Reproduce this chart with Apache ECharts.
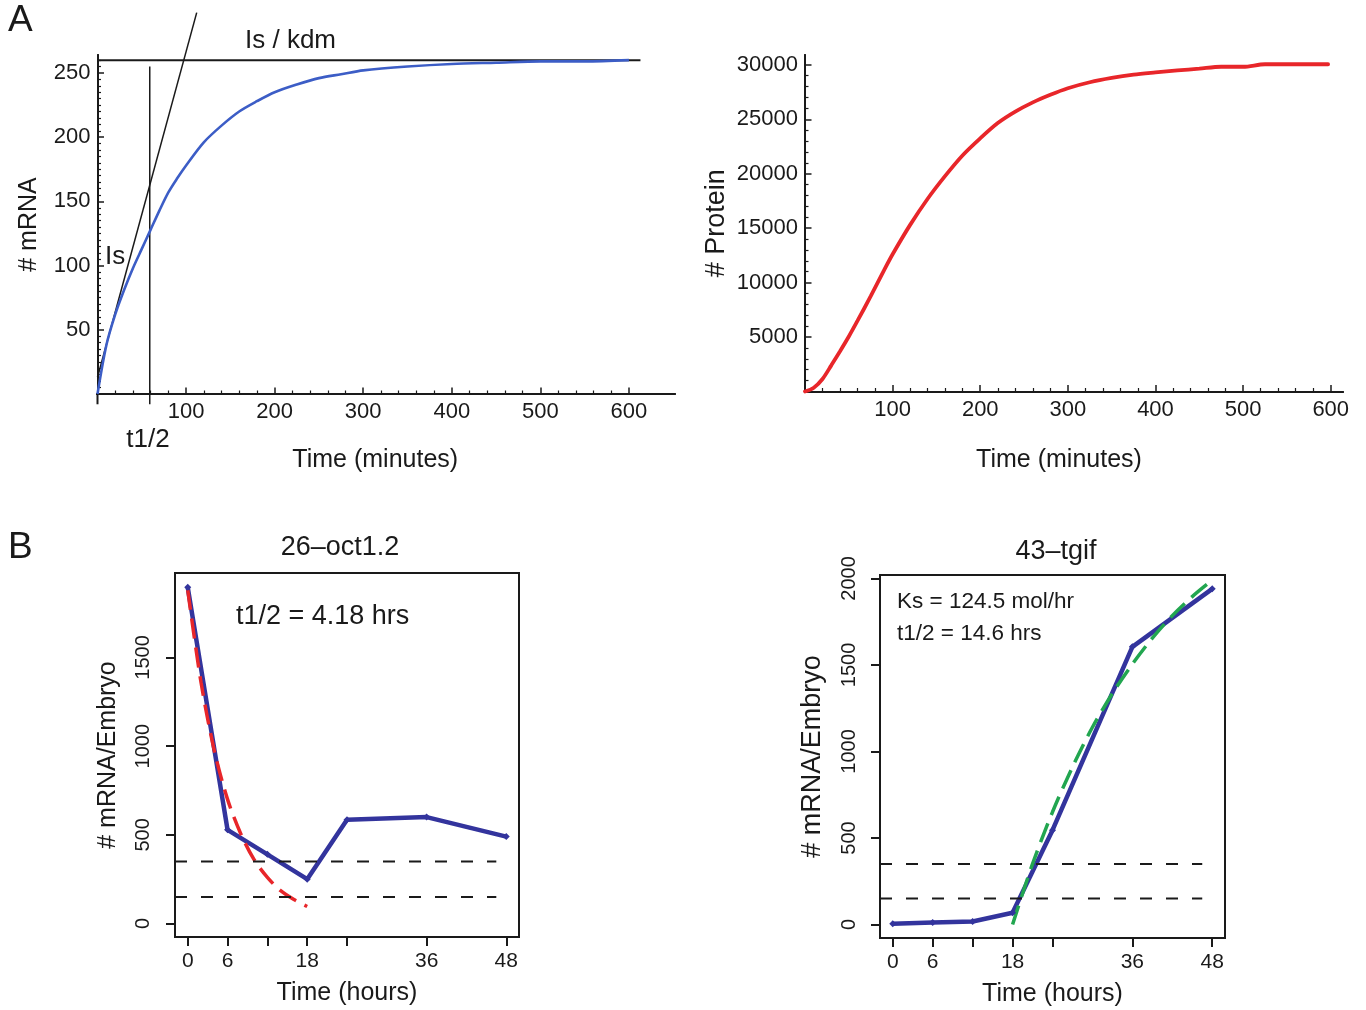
<!DOCTYPE html>
<html>
<head>
<meta charset="utf-8">
<title>mRNA / protein kinetics</title>
<script src="https://cdn.jsdelivr.net/npm/echarts@6/dist/echarts.min.js"></script>
<style>
  html, body { margin: 0; padding: 0; background: #fff; }
  #main { width: 1366px; height: 1010px; }
</style>
</head>
<body>
<div id="main"></div>
<script>
// ---- panel A, left: mRNA build-up (minutes)
var mrnaTime  = [0, 10, 20, 30, 40, 50, 60, 70, 80, 90, 100, 120, 140, 160, 180, 200, 225, 250, 275, 300, 350, 400, 450, 500, 550, 600];
var mrnaCount = [0, 38, 62, 81, 98, 113, 128, 143, 157, 168, 178, 196, 209, 220, 228, 235, 241, 246, 249, 252, 255, 257, 258, 259, 259, 260];
var plateauTime  = [0, 613];
var plateauCount = [260, 260];          // Is / kdm
var tangentTime  = [0, 112];
var tangentCount = [13, 297];           // initial slope Is
var halfTime  = [59, 59];
var halfCount = [-8, 255];              // t1/2 marker

// ---- panel A, right: protein (minutes)
var protTime  = [0, 10, 20, 30, 40, 50, 60, 75, 90, 100, 120, 140, 160, 180, 200, 220, 240, 260, 280, 300, 325, 350, 375, 400, 425, 450, 475, 500, 525, 550, 597];
var protCount = [0, 350, 1150, 2400, 3700, 5050, 6500, 8750, 11100, 12600, 15300, 17700, 19800, 21700, 23250, 24650, 25700, 26550, 27250, 27850, 28400, 28800, 29100, 29300, 29480, 29650, 29820, 29820, 30050, 30050, 30050];

// ---- panel B: embryo time courses (hours)
var hours = [0, 6, 12, 18, 24, 36, 48];
var oct12 = [1895, 528, 390, 250, 585, 600, 490];
var octFitHours = [0, 2, 4, 6, 8, 10, 12, 14, 16, 18];
var octFit      = [1880, 1360, 975, 700, 505, 360, 260, 185, 135, 96];
var tgif = [5, 12, 17, 68, 545, 1605, 1940];
var tgifFitHours = [18, 21, 24, 27, 30, 33, 36, 39, 42, 45, 48];
var tgifFit      = [0, 350, 650, 910, 1140, 1335, 1505, 1655, 1785, 1895, 1990];
var thresholds = [350, 150];
var thresholdHours = [-1.92, 46.5];

// ---- tick labels
var minuteTicks = [100, 200, 300, 400, 500, 600];
var mrnaTicks = [50, 100, 150, 200, 250];
var protTicks = [5000, 10000, 15000, 20000, 25000, 30000];
var hourTicks = [0, 6, 12, 18, 24, 36, 48];
var hourLabels = [0, 6, 18, 36, 48];
var octTicks = [0, 500, 1000, 1500];
var tgifTicks = [0, 500, 1000, 1500, 2000];

// axis line stubs reaching past the origin (panel A)
var mrnaAxisStubX = [-22, 0];
var mrnaAxisStubY = [-8, 0];
var protAxisStubX = [-15, 0];

var FONT = "'Liberation Sans', Arial, Helvetica, sans-serif";
var INK = '#1a1a1a';

function zip(xs, ys) {
    return xs.map(function (x, i) { return [x, ys[i]]; });
}
// minor tick positions between the major ones
function minors(from, to, step, major) {
    var out = [];
    for (var i = Math.round(from / step); i * step <= to; i++) {
        var v = i * step;
        if (v % major !== 0) out.push(v);
    }
    return out;
}
function plain(v) { return String(v); }

// Mathematica style axis: ticks pointing into the plot
function mmaAxis(grid, min, max, ticks, minorTicks, isMinor, extra) {
    var ax = {
        type: 'value', gridIndex: grid, min: min, max: max,
        nameMoveOverlap: false,
        splitLine: { show: false },
        axisLine: { show: true, onZero: false, lineStyle: { color: INK, width: 2 } },
        axisTick: isMinor
            ? { show: true, inside: true, length: 3.5, customValues: minorTicks, lineStyle: { color: INK, width: 1.2 } }
            : { show: true, inside: true, length: 6.5, customValues: ticks, lineStyle: { color: INK, width: 1.5 } },
        axisLabel: isMinor
            ? { show: false }
            : { show: true, customValues: ticks, formatter: plain, margin: 7, fontSize: 22, color: INK, fontFamily: FONT }
    };
    if (extra) Object.assign(ax, extra);
    return ax;
}

// R style axis on the plot box: ticks outside
function rAxis(grid, min, max, ticks, labels, extra) {
    var ax = {
        type: 'value', gridIndex: grid, min: min, max: max,
        nameMoveOverlap: false,
        splitLine: { show: false },
        axisLine: { show: false, onZero: false },
        axisTick: { show: true, inside: false, length: 9, customValues: ticks, lineStyle: { color: INK, width: 2 } },
        axisLabel: { show: true, customValues: labels, formatter: plain, fontSize: 20, color: INK, fontFamily: FONT }
    };
    Object.assign(ax, extra);
    return ax;
}

function nameStyle(size, padding) {
    return { fontSize: size, color: INK, fontFamily: FONT, padding: padding || 0 };
}

var xAxes = [
    mmaAxis(0, 0, 652, minuteTicks, null, false,
        { position: 'bottom', name: 'Time (minutes)', nameLocation: 'middle', nameGap: 54, nameTextStyle: nameStyle(25, [0, 22, 0, 0]) }),
    mmaAxis(0, 0, 652, null, minors(20, 600, 20, 100), true, { position: 'bottom' }),
    mmaAxis(1, 0, 614, minuteTicks, null, false,
        { position: 'bottom', name: 'Time (minutes)', nameLocation: 'middle', nameGap: 56, nameTextStyle: nameStyle(25, [0, 30, 0, 0]) }),
    mmaAxis(1, 0, 614, null, minors(20, 600, 20, 100), true, { position: 'bottom' }),
    rAxis(2, -1.92, 49.92, hourTicks, hourLabels,
        { position: 'bottom', name: 'Time (hours)', nameLocation: 'middle', nameGap: 44, nameTextStyle: nameStyle(25),
          axisLabel: { show: true, customValues: hourLabels, formatter: plain, margin: 14, fontSize: 21, color: INK, fontFamily: FONT } }),
    rAxis(3, -1.92, 49.92, hourTicks, hourLabels,
        { position: 'bottom', name: 'Time (hours)', nameLocation: 'middle', nameGap: 44, nameTextStyle: nameStyle(25),
          axisLabel: { show: true, customValues: hourLabels, formatter: plain, margin: 14, fontSize: 21, color: INK, fontFamily: FONT } })
];

var yAxes = [
    mmaAxis(0, 0, 264, mrnaTicks, null, false,
        { position: 'left', name: '# mRNA', nameLocation: 'middle', nameGap: 56, nameTextStyle: nameStyle(25) }),
    mmaAxis(0, 0, 264, null, minors(5, 260, 5, 50), true, { position: 'left' }),
    mmaAxis(1, 0, 30900, protTicks, null, false,
        { position: 'left', name: '# Protein', nameLocation: 'middle', nameGap: 75, nameTextStyle: nameStyle(27) }),
    mmaAxis(1, 0, 30900, null, minors(1000, 30000, 1000, 5000), true, { position: 'left' }),
    rAxis(2, -76, 1976, octTicks, octTicks,
        { position: 'left', name: '# mRNA/Embryo', nameLocation: 'middle', nameGap: 54, nameTextStyle: nameStyle(25),
          axisLabel: { show: true, customValues: octTicks, formatter: plain, rotate: 90, margin: 22, fontSize: 20, color: INK, fontFamily: FONT } }),
    rAxis(3, -78, 2020, tgifTicks, tgifTicks,
        { position: 'left', name: '# mRNA/Embryo', nameLocation: 'middle', nameGap: 54, nameTextStyle: nameStyle(27),
          axisLabel: { show: true, customValues: tgifTicks, formatter: plain, rotate: 90, margin: 21, fontSize: 20, color: INK, fontFamily: FONT } })
];

function line(xi, data, color, width, extra) {
    var s = {
        type: 'line', xAxisIndex: xi, yAxisIndex: xi, data: data,
        showSymbol: false, symbol: 'none', silent: true,
        lineStyle: { color: color, width: width }
    };
    return Object.assign(s, extra || {});
}

var BLUE_A = '#3c5dc6';
var RED = '#e8262a';
var NAVY = '#33349d';
var GREEN = '#22a650';
var DASH_BLACK = { color: INK, width: 2, type: [12, 14] };

var series = [
    // panel A left
    line(0, zip(mrnaAxisStubX, [0, 0]), INK, 2, { clip: false }),
    line(0, zip([0, 0], mrnaAxisStubY), INK, 2, { clip: false }),
    line(0, zip(plateauTime, plateauCount), INK, 2),
    line(0, zip(tangentTime, tangentCount), INK, 1.5, { clip: false }),
    line(0, zip(halfTime, halfCount), INK, 1.5, { clip: false }),
    line(0, zip(mrnaTime, mrnaCount), BLUE_A, 2.6, { smooth: 0.3 }),
    // panel A right
    line(2, zip(protAxisStubX, [0, 0]), INK, 2, { clip: false }),
    line(2, zip(protTime, protCount), RED, 3.8, { smooth: 0.3, clip: false, lineStyle: { color: RED, width: 3.8, cap: 'round' } }),
    // panel B left
    line(4, zip(hours, oct12), NAVY, 4.5, { showSymbol: true, symbol: 'diamond', symbolSize: 7, itemStyle: { color: NAVY } }),
    line(4, zip(octFitHours, octFit), RED, 3.5, { smooth: 0.3, lineStyle: { color: RED, width: 3.5, type: [20, 9] } }),
    line(4, zip(thresholdHours, [thresholds[0], thresholds[0]]), INK, 2, { lineStyle: DASH_BLACK }),
    line(4, zip(thresholdHours, [thresholds[1], thresholds[1]]), INK, 2, { lineStyle: DASH_BLACK }),
    // panel B right
    line(5, zip(hours, tgif), NAVY, 4.5, { showSymbol: true, symbol: 'diamond', symbolSize: 7, itemStyle: { color: NAVY } }),
    line(5, zip(tgifFitHours, tgifFit), GREEN, 3.5, { smooth: 0.3, lineStyle: { color: GREEN, width: 3.5, type: [20, 9] } }),
    line(5, zip(thresholdHours, [thresholds[0], thresholds[0]]), INK, 2, { lineStyle: DASH_BLACK }),
    line(5, zip(thresholdHours, [thresholds[1], thresholds[1]]), INK, 2, { lineStyle: DASH_BLACK })
];

function label(text, x, y, size, align) {
    return {
        type: 'text', x: x, y: y, silent: true,
        style: {
            text: text, fill: INK, font: size + 'px ' + FONT,
            textAlign: align || 'left', textVerticalAlign: 'middle',
            align: align || 'left', verticalAlign: 'middle'
        }
    };
}

var chart = echarts.init(document.getElementById('main'), null, { renderer: 'canvas' });
chart.setOption({
    animation: false,
    backgroundColor: '#ffffff',
    grid: [
        { left: 97.5, top: 55, width: 577.5, height: 339, outerBoundsMode: 'none' },
        { left: 805, top: 55, width: 538, height: 336.5, outerBoundsMode: 'none' },
        { left: 175, top: 573, width: 344, height: 364, show: true, borderColor: INK, borderWidth: 2, outerBoundsMode: 'none' },
        { left: 880, top: 575, width: 345, height: 363, show: true, borderColor: INK, borderWidth: 2, outerBoundsMode: 'none' }
    ],
    xAxis: xAxes,
    yAxis: yAxes,
    series: series,
    graphic: [
        label('A', 8, 21, 37),
        label('B', 8, 548, 37),
        label('Is / kdm', 245, 41, 26),
        label('Is', 105, 257, 26),
        label('t1/2', 148, 440, 26, 'center'),
        label('26\u2013oct1.2', 340, 548, 27, 'center'),
        label('43\u2013tgif', 1056, 552, 27, 'center'),
        label('t1/2 = 4.18 hrs', 236, 617, 27),
        label('Ks = 124.5 mol/hr', 897, 602, 22.5),
        label('t1/2 = 14.6 hrs', 897, 634, 22.5)
    ]
});
</script>
</body>
</html>
